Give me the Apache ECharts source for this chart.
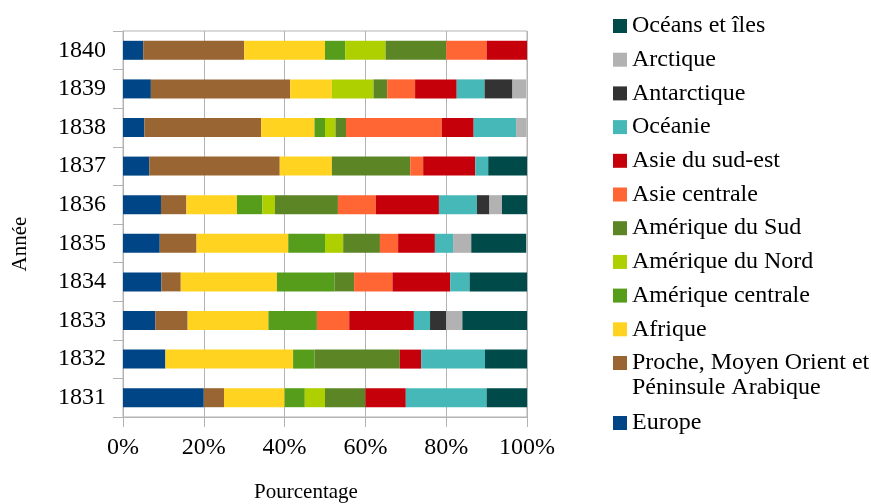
<!DOCTYPE html>
<html>
<head>
<meta charset="utf-8">
<script src="https://cdn.jsdelivr.net/npm/echarts@6/dist/echarts.min.js"></script>
<style>
  html, body { margin: 0; padding: 0; background: #fff; }
  #chart { width: 871px; height: 504px; }
</style>
</head>
<body>
<div id="chart"></div>
<script>
// années (axe vertical, 1831 en bas)
const years = ['1831', '1832', '1833', '1834', '1835', '1836', '1837', '1838', '1839', '1840'];

// parts en % par région, même ordre que years
const europe = [20.0, 10.5, 8.0, 9.5, 9.1, 9.4, 6.5, 5.3, 6.9, 5.0];
const procheOrient = [5.0, 0, 8.0, 4.8, 9.1, 6.3, 32.3, 28.9, 34.5, 25.0];
const afrique = [15.0, 31.6, 20.0, 23.8, 22.7, 12.5, 12.9, 13.2, 10.3, 20.0];
const ameriqueCentrale = [5.0, 5.3, 12.0, 14.3, 9.1, 6.3, 0, 2.6, 0, 5.0];
const ameriqueNord = [5.0, 0, 0, 0, 4.5, 3.1, 0, 2.6, 10.3, 10.0];
const ameriqueSud = [10.0, 21.1, 0, 4.8, 9.1, 15.6, 19.4, 2.6, 3.4, 15.0];
const asieCentrale = [0, 0, 8.0, 9.5, 4.5, 9.4, 3.2, 23.7, 6.9, 10.0];
const asieSudEst = [10.0, 5.3, 16.0, 14.3, 9.1, 15.6, 12.9, 7.9, 10.3, 10.0];
const oceanie = [20.0, 15.8, 4.0, 4.8, 4.5, 9.4, 3.2, 10.5, 6.9, 0];
const antarctique = [0, 0, 4.0, 0, 0, 3.1, 0, 0, 6.9, 0];
const arctique = [0, 0, 4.0, 0, 4.5, 3.1, 0, 2.6, 3.4, 0];
const oceansIles = [10.0, 10.5, 16.0, 14.3, 13.6, 6.3, 9.7, 0, 0, 0];

const procheName = 'Proche, Moyen Orient et Péninsule Arabique';

const regions = [
  { name: 'Europe', data: europe, color: '#004586' },
  { name: procheName, data: procheOrient, color: '#996633' },
  { name: 'Afrique', data: afrique, color: '#ffd320' },
  { name: 'Amérique centrale', data: ameriqueCentrale, color: '#579d1c' },
  { name: 'Amérique du Nord', data: ameriqueNord, color: '#aecf00' },
  { name: 'Amérique du Sud', data: ameriqueSud, color: '#5c8526' },
  { name: 'Asie centrale', data: asieCentrale, color: '#ff6633' },
  { name: 'Asie du sud-est', data: asieSudEst, color: '#c5000b' },
  { name: 'Océanie', data: oceanie, color: '#47b8b8' },
  { name: 'Antarctique', data: antarctique, color: '#333333' },
  { name: 'Arctique', data: arctique, color: '#b2b2b2' },
  { name: 'Océans et îles', data: oceansIles, color: '#004a4a' },
];

const font = 'Liberation Serif';
const gridColor = '#b3b3b3';

// style commun des deux blocs de légende
const legendBase = {
  orient: 'vertical',
  left: 613,
  padding: 0,
  itemWidth: 14,
  itemHeight: 14,
  itemGap: 9.7,
  icon: 'rect',
  textStyle: { fontFamily: font, fontSize: 24, lineHeight: 24, color: '#000' },
};

// légende dans l'ordre inverse de l'empilement ; Europe à part pour laisser
// la place à la deuxième ligne de "Proche, Moyen Orient..."
const legendNames = regions.map(r => r.name).reverse();

const chart = echarts.init(document.getElementById('chart'));
chart.setOption({
  animation: false,
  backgroundColor: '#fff',
  textStyle: { fontFamily: font, color: '#000' },
  grid: {
    left: 123,
    right: 344,
    top: 31,
    bottom: 87,
    show: true,
    borderColor: gridColor,
    borderWidth: 1,
    outerBoundsMode: 'none',
  },
  legend: [
    Object.assign({}, legendBase, {
      top: 14,
      data: legendNames.slice(0, 11),
      formatter: name => name === procheName ? 'Proche, Moyen Orient et' : name,
    }),
    Object.assign({}, legendBase, {
      top: 411,
      data: legendNames.slice(11),
    }),
  ],
  graphic: [{
    type: 'text',
    left: 632,
    top: 376,
    style: { text: 'Péninsule Arabique', font: '24px "Liberation Serif"', fill: '#000' },
  }],
  xAxis: {
    type: 'value',
    min: 0,
    max: 100,
    interval: 20,
    name: 'Pourcentage',
    nameLocation: 'middle',
    nameGap: 65,
    nameTextStyle: { fontFamily: font, fontSize: 21, color: '#000', padding: [0, 38, 0, 0] },
    axisLine: { show: true, lineStyle: { color: gridColor } },
    axisTick: { show: true, length: 10, lineStyle: { color: gridColor } },
    axisLabel: { formatter: '{value}%', fontFamily: font, fontSize: 24, color: '#000', margin: 19 },
    splitLine: { show: true, lineStyle: { color: gridColor, width: 1 } },
  },
  yAxis: {
    type: 'category',
    data: years,
    name: 'Année',
    nameLocation: 'middle',
    nameGap: 92,
    nameTextStyle: { fontFamily: font, fontSize: 21, color: '#000', padding: [0, 40, 0, 0] },
    axisLine: { show: true, lineStyle: { color: gridColor } },
    axisTick: { show: true, length: 10, lineStyle: { color: gridColor } },
    axisLabel: { fontFamily: font, fontSize: 24, color: '#000', margin: 17 },
    splitLine: { show: false },
  },
  series: regions.map(r => ({
    name: r.name,
    type: 'bar',
    stack: 'total',
    barWidth: 19,
    data: r.data,
    itemStyle: { color: r.color },
  })),
});
</script>
</body>
</html>
